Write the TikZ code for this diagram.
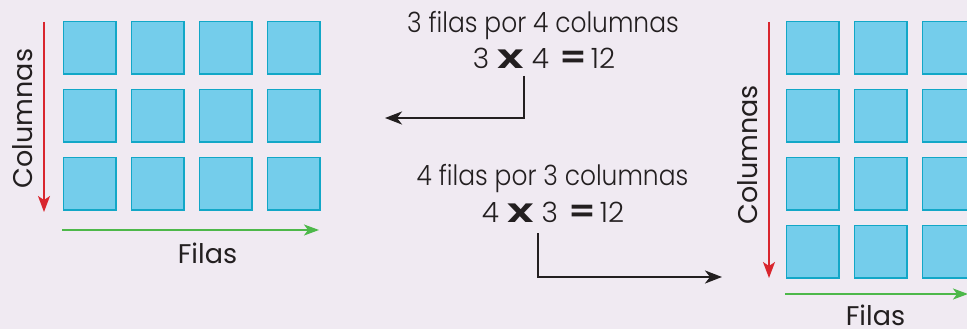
\documentclass[tikz,border=0pt]{standalone}
\usepackage{fontspec}
\setmainfont{Poppins}
\newfontfamily\lightfont{Poppins Light}
\usetikzlibrary{arrows.meta}
\definecolor{bg}{HTML}{F0EAF2}
\definecolor{sqfill}{HTML}{74CDEB}
\definecolor{sqborder}{HTML}{12A7C7}
\definecolor{axred}{HTML}{D9262E}
\definecolor{axgreen}{HTML}{4DB84A}
\definecolor{ink}{HTML}{231F20}
\newcommand{\bigtimes}{\scalebox{1.75}[1.2]{\bfseries x}}
\newcommand{\bigeq}{\scalebox{1.35}[1.15]{\bfseries =}}
\begin{document}
\begin{tikzpicture}[x=1pt,y=-1pt,
  sq/.style={draw=sqborder, fill=sqfill, line width=1.2pt, minimum size=52.8pt, inner sep=0pt, anchor=north west},
  redaxis/.style={draw=axred, line width=1.6pt, -{Stealth[length=16pt,width=12pt,inset=4pt]}},
  greenaxis/.style={draw=axgreen, line width=1.6pt, -{Stealth[length=15pt,width=11pt,inset=4pt]}},
  conn/.style={draw=ink, line width=2.6pt, -{Stealth[length=17pt,width=13pt,inset=5pt]}},
  axlabel/.style={font=\fontsize{27}{30}\selectfont, text=ink, inner sep=0pt, anchor=base},
  toptext/.style={font=\lightfont\fontsize{28}{30}\selectfont, text=ink, inner sep=0pt, anchor=base},
]
\useasboundingbox (0,0) rectangle (967,329);
\fill[bg] (0,0) rectangle (967,329);
% left grid 3 rows x 4 columns
\foreach \i in {0,...,3}{
  \foreach \j in {0,...,2}{
    \node[sq] (L\i\j) at (62.6+68*\i, 20.6+68*\j) {};
  }
}
% right grid 4 rows x 3 columns
\foreach \i in {0,...,2}{
  \foreach \j in {0,...,3}{
    \node[sq] (R\i\j) at (785.6+68*\i, 20.6+68*\j) {};
  }
}
% left axes
\coordinate (lr1) at (44,22);
\coordinate (lr2) at (44,212);
\draw[redaxis] (lr1) -- (lr2);
\coordinate (lg1) at (62,230);
\coordinate (lg2) at (319,230);
\draw[greenaxis] (lg1) -- (lg2);
\node[axlabel, rotate=90] (lcol) at (32,118.5) {Columnas};
\node[axlabel] (lfil) at (207.5,263) {Filas};
% right axes
\coordinate (rr1) at (769,22);
\coordinate (rr2) at (769,278);
\draw[redaxis] (rr1) -- (rr2);
\coordinate (rg1) at (785,294);
\coordinate (rg2) at (968,294);
\draw[greenaxis] (rg1) -- (rg2);
\node[axlabel, rotate=90] (rcol) at (757,155) {Columnas};
\node[axlabel, text depth=0pt] (rfil) at (875.5,325) {Filas};
% texts
\node[toptext] (t1) at (543,33) {\scalebox{0.89}[1]{3 filas por 4 columnas}};
\node[toptext] (e1) at (544,69) {3\hspace{8pt}\bigtimes\hspace{8pt}4\hspace{11pt}\bigeq\hspace{3pt}12};
\node[toptext] (t2) at (552.5,185) {\scalebox{0.89}[1]{4 filas por 3 columnas}};
\node[toptext] (e2) at (553,222) {4\hspace{8pt}\bigtimes\hspace{8pt}3\hspace{11pt}\bigeq\hspace{3pt}12};
% connectors
\coordinate (a1s) at (524,76);
\coordinate (a1c) at (524,118);
\coordinate (a1e) at (385,118);
\draw[conn] (a1s) -- (a1c) -- (a1e);
\coordinate (a2s) at (538,233);
\coordinate (a2c) at (538,277);
\coordinate (a2e) at (722,277);
\draw[conn] (a2s) -- (a2c) -- (a2e);
\end{tikzpicture}
\end{document}
